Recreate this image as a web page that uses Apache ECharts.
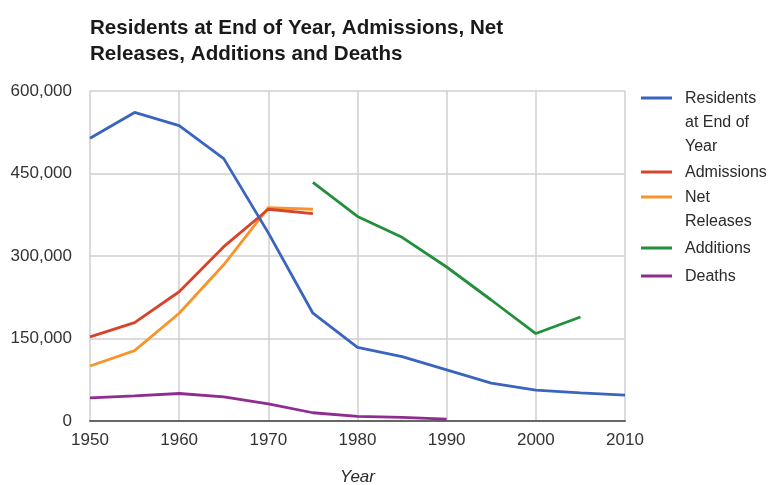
<!DOCTYPE html>
<html><head><meta charset="utf-8">
<script src="https://cdn.jsdelivr.net/npm/echarts@6/dist/echarts.min.js"></script>
<style>html,body{margin:0;padding:0;background:#fff}#c{width:776px;height:485px}</style>
</head><body><div id="c"></div>
<script>
var years = [1950,1955,1960,1965,1970,1975,1980,1985,1990,1995,2000,2005,2010];
var residents = [514000,561000,537000,477000,342000,196000,134000,117000,93000,69000,56000,51000,47000];
var admissions = [153000,179000,235000,317000,385000,377000,null,null,null,null,null,null,null];
var netReleases = [100000,128000,196000,284000,388000,385000,null,null,null,null,null,null,null];
var additions = [null,null,null,null,null,434000,372000,334000,280000,220000,159000,189000,null];
var deaths = [42000,45500,50000,44000,31000,15000,8500,6500,3500,null,null,null,null];
var seriesNames = ['Residents at End of Year','Admissions','Net Releases','Additions','Deaths'];
var legendLabels = ['Residents\nat End of\nYear','Admissions','Net\nReleases','Additions','Deaths'];
var colors = ['#3a64bd','#d8432a','#f7952c','#22903a','#8f2b91'];
var yTicks = [0,150000,300000,450000,600000];
var xTicks = [1950,1960,1970,1980,1990,2000,2010];
var titleText = 'Residents at End of Year, Admissions, Net\nReleases, Additions and Deaths';
var xAxisName = 'Year';

function pairs(arr){ return years.map(function(y,i){ return [y, arr[i]]; }); }
var allData = [residents, admissions, netReleases, additions, deaths];

var chart = echarts.init(document.getElementById('c'));
var font = 'Liberation Sans, Arial, Helvetica, sans-serif';

// custom legend (icon aligned with first text line)
var legendGraphics = [];
var legendTops = [98, 172, 197, 248, 276];
legendLabels.forEach(function(lbl, i){
  legendGraphics.push({type:'rect', left:641, top:legendTops[i]-1.5, shape:{width:31,height:3}, style:{fill:colors[i]}});
  legendGraphics.push({type:'text', left:685, top:legendTops[i]-11, style:{text:lbl, fill:'#2a2a2a', font:'16px '+font, lineHeight:24}});
});

chart.setOption({
  animation:false,
  color: colors,
  title:{text:titleText, left:85, top:10, textStyle:{fontFamily:font, fontSize:20.6, fontWeight:'bold', color:'#1a1a1a', lineHeight:26}},
  grid:{left:90, right:151, top:91, bottom:64, outerBoundsMode:'none', containLabel:false},
  xAxis:{type:'value', min:1950, max:2010, interval:10,
    name:xAxisName, nameLocation:'middle', nameGap:48,
    nameTextStyle:{fontFamily:font, fontSize:17, fontStyle:'italic', color:'#2a2a2a'},
    axisLine:{show:true, lineStyle:{color:'#666', width:2}}, axisTick:{show:false},
    axisLabel:{fontFamily:font, fontSize:17, color:'#333', margin:11, formatter:function(v){return String(v);}},
    splitLine:{show:true, lineStyle:{color:'#cfcfcf', width:1.5}}},
  yAxis:{type:'value', min:0, max:600000, interval:150000,
    axisLine:{show:false}, axisTick:{show:false},
    axisLabel:{fontFamily:font, fontSize:17, color:'#333', margin:18, formatter:function(v){return v.toLocaleString('en-US');}},
    splitLine:{show:true, lineStyle:{color:'#cfcfcf', width:1.5}}},
  graphic: legendGraphics,
  series: seriesNames.map(function(n,i){
    return {name:n, type:'line', data:pairs(allData[i]), showSymbol:false, connectNulls:false,
      lineStyle:{width:2.8, color:colors[i]}, itemStyle:{color:colors[i]}, z:10-i};
  })
});
</script></body></html>
